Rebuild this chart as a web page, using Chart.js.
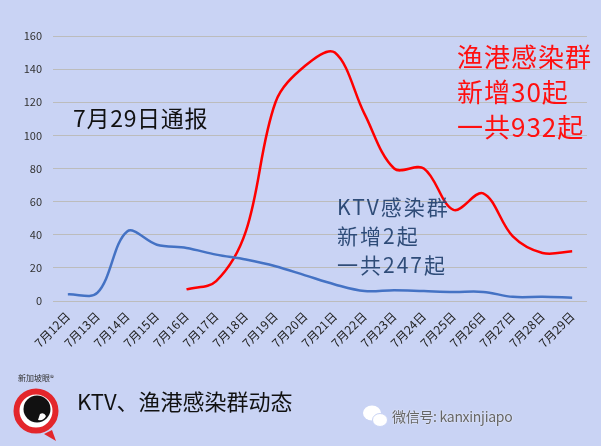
<!DOCTYPE html>
<html>
<head>
<meta charset="utf-8">
<script src="https://cdn.jsdelivr.net/npm/chart.js@4"></script>
<style>
  html, body { margin: 0; padding: 0; }
  body { width: 601px; height: 446px; overflow: hidden; background: #c9d3f4; position: relative;
         font-family: "Noto Sans CJK SC", "Noto Sans", sans-serif; }
  #wrap { position: absolute; left: 0; top: 0; width: 601px; height: 446px; }
  .note { position: absolute; white-space: nowrap; }
  #date { left: 73px; top: 100px; font-size: 23px; color: #111; letter-spacing: 0.7px; }
  #fish { left: 457px; top: 38px; font-size: 26px; line-height: 35px; color: #ff1010; letter-spacing: 1px; }
  #ktv { left: 337px; top: 192px; font-size: 21px; line-height: 29px; color: #2f4c78; letter-spacing: 2px; }
  #title { left: 77px; top: 384px; font-size: 22px; color: #111; }
  #wx { left: 392px; top: 406px; font-size: 14px; color: #666; text-shadow: 0 0 2px #fff; letter-spacing: -0.3px; }
  #logoText { left: 18px; top: 372px; font-size: 8px; color: #333; }
</style>
</head>
<body>
<div id="wrap"><canvas id="chart" width="601" height="446"></canvas></div>

<div class="note" id="date">7月29日通报</div>
<div class="note" id="fish">渔港感染群<br>新增30起<br>一共932起</div>
<div class="note" id="ktv">KTV感染群<br>新增2起<br>一共247起</div>
<div class="note" id="title">KTV、渔港感染群动态</div>
<div class="note" id="logoText">新加坡眼®</div>
<div class="note" id="wx">微信号: kanxinjiapo</div>

<svg style="position:absolute;left:0;top:0" width="601" height="446">
  <!-- logo -->
  <path d="M52 430 L56 441 L44 434 Z" fill="#e3262b"/>
  <circle cx="36" cy="411" r="19.5" fill="#fff" stroke="#e3262b" stroke-width="6"/>
  <circle cx="37" cy="409" r="13.5" fill="#111"/>
  <path d="M40 414 q4 -2 6 2 q-2 5 -8 4 z" fill="#fff"/>
  <!-- wechat icon -->
  <ellipse cx="372" cy="413" rx="9" ry="7.5" fill="#fff"/>
  <ellipse cx="380" cy="420" rx="7.5" ry="6.5" fill="#fff" stroke="#c9d3f4" stroke-width="1"/>
</svg>

<script>
// 7/12 ~ 7/29
const days = ['7月12日', '7月13日', '7月14日', '7月15日', '7月16日', '7月17日', '7月18日', '7月19日', '7月20日',
  '7月21日', '7月22日', '7月23日', '7月24日', '7月25日', '7月26日', '7月27日', '7月28日', '7月29日']

// KTV感染群 每日新增
const ktvCases = [4, 5, 42, 34, 32, 28, 25, 21, 15.5, 10, 6, 6.5, 6, 5.5, 5.5, 2.5, 2.5, 2]

// 渔港感染群 每日新增 (7/16 起)
const fishCases = [null, null, null, null, 7, 12, 42, 120, 142, 150, 113, 80, 80, 55, 65, 39, 29, 30]

const yTicks = { min: 0, max: 160, step: 20 }

let ctx = document.getElementById('chart').getContext('2d')
new Chart(ctx, {
  type: 'line',
  data: {
    labels: days,
    datasets: [
      {
        label: 'KTV',
        data: ktvCases,
        borderColor: '#4472c4',
        borderWidth: 2.5,
        tension: 0.35,
        pointRadius: 0
      },
      {
        label: '渔港',
        data: fishCases,
        borderColor: '#ff0000',
        borderWidth: 2.5,
        tension: 0.35,
        pointRadius: 0
      }
    ]
  },
  options: {
    responsive: false,
    animation: false,
    layout: { padding: { top: 36, right: 14, left: 0, bottom: 0 } },
    plugins: { legend: { display: false }, tooltip: { enabled: false } },
    scales: {
      x: {
        offset: true,
        grid: { display: false, drawTicks: false },
        border: { display: false },
        ticks: {
          minRotation: 45,
          maxRotation: 45,
          padding: 8,
          color: '#222',
          font: { family: 'Noto Sans CJK SC', size: 12 }
        },
        afterFit: scale => { scale.height = 145 }
      },
      y: {
        min: yTicks.min,
        max: yTicks.max,
        grid: { color: '#bcbcbc', lineWidth: 1, drawTicks: false },
        border: { display: false },
        ticks: {
          stepSize: yTicks.step,
          padding: 11,
          color: '#333',
          font: { family: 'Noto Sans CJK SC', size: 11 }
        },
        afterFit: scale => { scale.width = 53 }
      }
    }
  }
})
</script>
</body>
</html>
